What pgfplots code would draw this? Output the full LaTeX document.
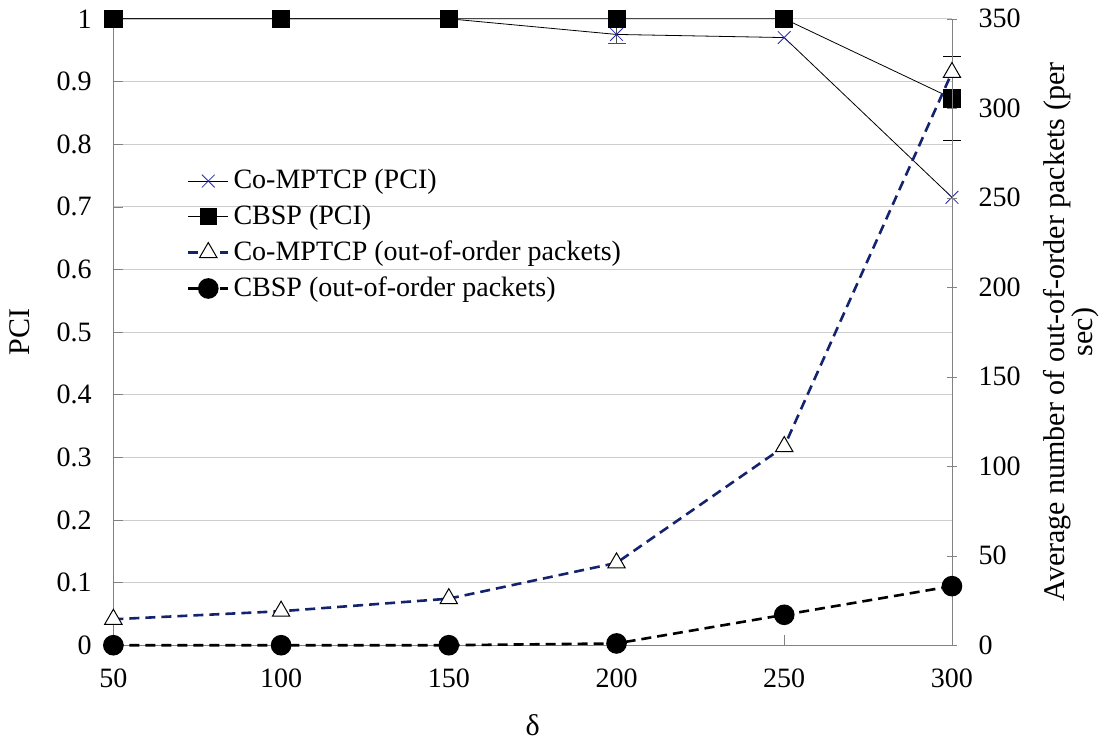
\documentclass[border=0pt]{standalone}
\usepackage{pgfplots}
\pgfplotsset{compat=1.18}
\usepackage{fontspec}
\setmainfont{Liberation Serif}
\definecolor{navy}{RGB}{20,35,110}
\definecolor{mblue}{RGB}{40,40,170}
\definecolor{gridgray}{RGB}{205,205,205}
\definecolor{axgray}{RGB}{130,130,130}
\begin{document}
\fontsize{14}{16}\selectfont
\begin{tikzpicture}
\pgfplotsset{
  base/.style={
    width=419pt, height=313pt, scale only axis=true,
    xmin=50, xmax=300,
    xtick={50,100,150,200,250,300},
    /pgf/number format/assume math mode=true,
    tick label style={font=\fontsize{14}{16}\selectfont},
    label style={font=\fontsize{15}{13}\selectfont},
    axis line style={axgray},
    tick style={axgray, major tick length=5pt},
  }
}
\begin{axis}[base,
  axis y line*=left, axis x line*=bottom,
  ymin=0, ymax=1, ytick={0,0.1,...,1.0},
  yticklabels={0,0.1,0.2,0.3,0.4,0.5,0.6,0.7,0.8,0.9,1},
  ymajorgrids, grid style={gridgray},
  xlabel={δ}, ylabel={PCI},
  xlabel style={yshift=-4pt},
  ylabel style={yshift=4pt},
  xticklabel style={yshift=-7pt},
  yticklabel style={xshift=-6pt},
  tick align=inside,
  clip=false,
]
\addplot[black, thin, mark=x, mark size=4.5pt, mark options={mblue, thin},
  error bars/.cd, y dir=both, y explicit, error bar style={black!70}]
  coordinates {(50,1) (100,1) (150,1) (200,0.975) +- (0,0.015) (250,0.970) (300,0.715)};
\addplot[black, thin, mark=square*, mark size=4.3pt,
  error bars/.cd, y dir=both, y explicit, error bar style={black}]
  coordinates {(50,1) (100,1) (150,1) (200,1) (250,1) (300,0.873) +- (0,0.067)};
\end{axis}
\begin{axis}[base,
  axis y line*=right, axis x line=none,
  ymin=0, ymax=350, ytick={0,50,...,350},
  tick align=center,
  yticklabel style={xshift=6pt},
  ylabel={Average number of out-of-order packets (per\\[-1pt]sec)},
  ylabel style={align=center, yshift=-2pt},
  legend style={at={(0.085,0.77)}, anchor=north west, draw=none, fill=none,
    font=\fontsize{14}{16}\selectfont, row sep=2pt, inner sep=1pt,
    /tikz/every even column/.append style={column sep=2pt}},
  legend cell align=left,
  legend image code/.code={
    \draw[mark repeat=2,mark phase=2,#1] plot coordinates {(0cm,0cm) (0.35cm,0cm) (0.7cm,0cm)};
  },
  clip=false,
]
\addlegendimage{black, thin, mark=x, mark size=4.5pt, mark options={mblue, thin}}
\addlegendentry{Co-MPTCP (PCI)}
\addlegendimage{black, thin, mark=square*, mark size=4pt}
\addlegendentry{CBSP (PCI)}
\addplot[navy, line width=1.3pt, dash pattern=on 5pt off 3pt, mark=triangle*, mark size=5pt,
  mark options={solid, draw=black, fill=white, line width=0.5pt}]
  coordinates {(50,14.5) (100,19) (150,26) (200,46) (250,111) (300,320)};
\addlegendentry{Co-MPTCP (out-of-order packets)}
\addplot[black, line width=1.3pt, dash pattern=on 5pt off 3pt, mark=*, mark size=4.5pt, mark options={solid}]
  coordinates {(50,0) (100,0) (150,0) (200,1) (250,17) (300,33)};
\addlegendentry{CBSP (out-of-order packets)}
\end{axis}
\end{tikzpicture}
\end{document}
